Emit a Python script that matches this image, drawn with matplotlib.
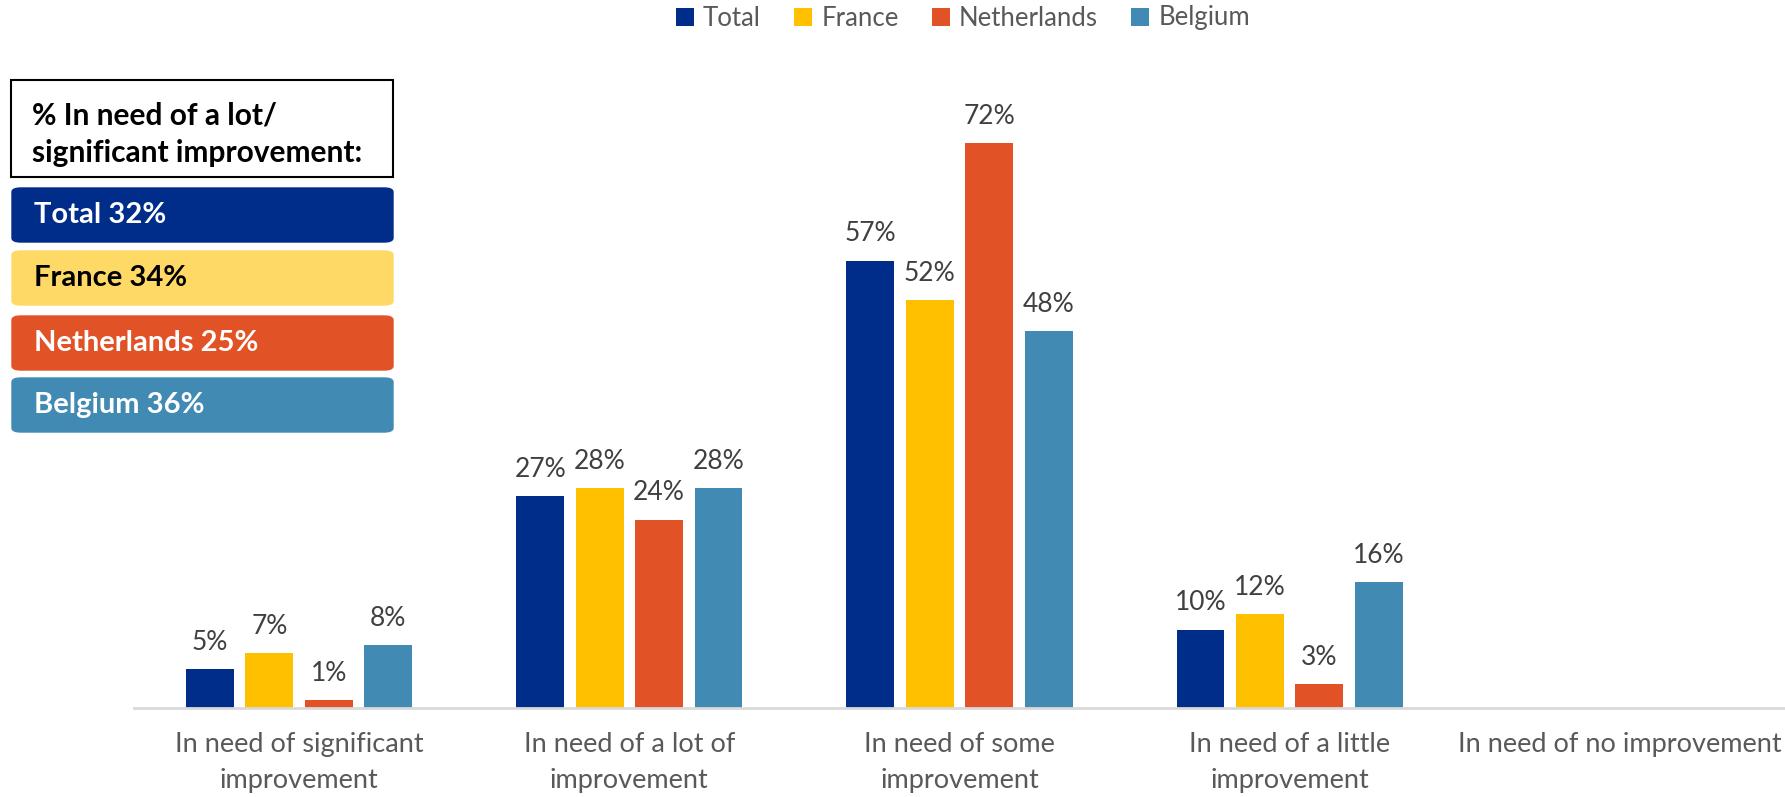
import numpy as np
import matplotlib.pyplot as plt
from matplotlib.patches import FancyBboxPatch, Rectangle

plt.rcParams['font.family'] = ['Lato', 'DejaVu Sans']

categories = ['In need of significant\nimprovement', 'In need of a lot of\nimprovement',
              'In need of some\nimprovement', 'In need of a little\nimprovement',
              'In need of no improvement']
series = ['Total', 'France', 'Netherlands', 'Belgium']
total = [5, 27, 57, 10, np.nan]
france = [7, 28, 52, 12, np.nan]
netherlands = [1, 24, 72, 3, np.nan]
belgium = [8, 28, 48, 16, np.nan]
summary = [('Total', 32), ('France', 34), ('Netherlands', 25), ('Belgium', 36)]

colors = ['#002C8A', '#FFC000', '#E15327', '#418AB3']
box_colors = ['#002C8A', '#FFD966', '#E15327', '#418AB3']
box_text = ['white', 'black', 'white', 'white']

W, H = 1785, 797
fig = plt.figure(figsize=(W / 100, H / 100), dpi=100)
ax = fig.add_axes([134 / W, (H - 708) / H, 1 - 134 / W, 708 / H])

x = np.arange(len(categories))
step, width = 0.18, 0.145
for i, (name, vals) in enumerate(zip(series, [total, france, netherlands, belgium])):
    pos = x + (i - 1.5) * step
    ax.bar(pos, vals, width, color=colors[i], label=name)
    for xp, v in zip(pos, vals):
        if not np.isnan(v):
            ax.text(xp, v + 1.8, f'{v:.0f}%', ha='center', va='bottom',
                    fontsize=19, color='#404040')

ax.set_xlim(-0.5, 4.5)
ax.set_ylim(0, 90.2)
ax.set_yticks([])
ax.set_xticks(x)
ax.set_xticklabels(categories, fontsize=19.5, color='#595959', linespacing=1.55)
ax.tick_params(axis='x', length=0, pad=17)
for s in ['top', 'right', 'left']:
    ax.spines[s].set_visible(False)
ax.spines['bottom'].set_color('#D9D9D9')
ax.spines['bottom'].set_linewidth(2)

fig.legend(loc='center', bbox_to_anchor=(963 / W, 1 - 18 / H), ncol=4, frameon=False,
           fontsize=18.5, labelcolor='#595959', handlelength=0.7, handleheight=0.7,
           handletextpad=0.35, columnspacing=1.3)


def px(x0, y0):
    return x0 / W, 1 - y0 / H


# summary panel on the left
hx, hy = px(11, 177)
fig.patches.append(Rectangle((hx, hy), 382 / W, 97 / H, transform=fig.transFigure,
                             facecolor='white', edgecolor='black', linewidth=1.5))
fig.text(*px(32, 134), '% In need of a lot/\nsignificant improvement:', fontsize=21.5,
         fontweight='bold', color='black', va='center', linespacing=1.4)

tops = [188, 251, 316, 378]
for (name, pct), top, fc, tc in zip(summary, tops, box_colors, box_text):
    bx, by = px(12, top + 54)
    fig.patches.append(FancyBboxPatch((bx, by), 381 / W, 54 / H, transform=fig.transFigure,
                                      boxstyle='round,pad=0,rounding_size=0.005',
                                      facecolor=fc, edgecolor=fc, linewidth=1))
    fig.text(*px(34, top + 27), f'{name} {pct}%', fontsize=21, fontweight='bold',
             color=tc, va='center')

fig.savefig('out.png', dpi=100)
